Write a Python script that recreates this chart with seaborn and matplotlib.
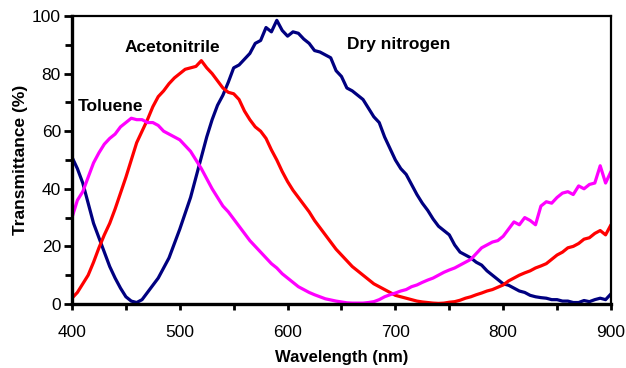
import numpy as np
import pandas as pd
import matplotlib
matplotlib.use("Agg")
import matplotlib.pyplot as plt
from matplotlib.ticker import MultipleLocator
import seaborn as sns

# Comprimentos de onda (nm), passo de 5 nm
wavelength = list(range(400, 905, 5))

dry_nitrogen = [51, 47, 42, 35, 28, 23, 18, 13, 9, 5.5,
                2.5, 1, 0.5, 1.5, 4, 6.5, 9, 12.5, 16, 21,
                26, 31.5, 37, 44, 51, 58, 64, 69, 72.5, 77,
                82, 83, 85, 87, 90.5, 91.5, 96, 94.5, 98.5, 95,
                93, 94.5, 94, 92, 90.5, 88, 87.5, 86.5, 85.5, 81,
                79, 75, 74, 72.5, 71, 68, 65, 63, 58, 54,
                50, 47, 45, 41.5, 38, 35, 32.5, 29.5, 27, 25.5,
                24, 20.5, 18, 17, 16, 14.5, 13.5, 11.5, 10, 8.5,
                7, 6.5, 5.5, 4.5, 4, 3, 2.5, 2.2, 2, 1.5,
                1.5, 1, 1, 0.5, 0.5, 1.2, 0.8, 1.5, 2, 1.5,
                3.5]

acetonitrile = [2, 4, 7, 10, 14.5, 19.5, 24, 28, 33, 38.5,
                44, 50, 56, 60, 64, 68.5, 72, 74, 76.5, 78.5,
                80, 81.5, 82, 82.5, 84.5, 82, 80, 77.5, 75, 73.5,
                73, 71, 67, 64, 61.5, 60, 57.5, 53.5, 50, 46,
                42.5, 39.5, 37, 34.5, 32, 29, 26.5, 24, 21.5, 19,
                17, 15, 13, 11.5, 10, 8.5, 7, 6, 5, 4,
                3, 2.5, 2, 1.5, 1, 0.7, 0.5, 0.3, 0.2, 0.3,
                0.6, 0.8, 1.3, 2, 2.5, 3.2, 3.8, 4.5, 5, 5.8,
                6.6, 8, 9, 10, 10.8, 11.5, 12.5, 13.2, 14, 15.5,
                17, 18, 19.5, 20, 21, 22.5, 23, 24.5, 25.5, 24,
                27.5]

toluene = [30, 36, 39, 44, 49, 52.5, 55.5, 57.5, 59, 61.5,
           63, 64.5, 64, 64, 63, 63, 62, 60, 59, 58,
           57, 55, 53, 50, 47, 43.5, 40, 37, 34, 32,
           29.5, 27, 24.5, 22, 20, 18, 16, 14, 12.5, 10.5,
           9, 7.5, 6, 5, 4, 3.2, 2.5, 1.8, 1.4, 1,
           0.7, 0.4, 0.3, 0.3, 0.3, 0.5, 0.8, 1.5, 2.5, 3.2,
           3.8, 4.5, 5, 6, 6.6, 7.5, 8.3, 9, 10, 11,
           11.8, 12.5, 13.5, 14.5, 15.5, 17.5, 19.5, 20.5, 21.5, 22,
           23.5, 26, 28.5, 27.5, 30, 29, 27.5, 34, 35.5, 35,
           37, 38.5, 39, 38, 41, 40, 41.5, 42, 48, 42,
           46]

series_names = ["Dry nitrogen", "Acetonitrile", "Toluene"]
cores = {"Dry nitrogen": "#000080", "Acetonitrile": "#FF0000", "Toluene": "#FF00FF"}

df = pd.DataFrame({"Wavelength": wavelength,
                   "Dry nitrogen": dry_nitrogen,
                   "Acetonitrile": acetonitrile,
                   "Toluene": toluene})
df_long = df.melt(id_vars="Wavelength", var_name="Amostra", value_name="Transmittance")

sns.set_style("white")
plt.rcParams["font.family"] = ["Liberation Sans", "DejaVu Sans"]
plt.rcParams["text.color"] = "black"
plt.rcParams["axes.labelcolor"] = "black"
plt.rcParams["xtick.color"] = "black"
plt.rcParams["ytick.color"] = "black"

fig = plt.figure(figsize=(6.26, 3.68), dpi=100)
ax = fig.add_axes([0.115, 0.174, 0.861, 0.7825])

sns.lineplot(data=df_long, x="Wavelength", y="Transmittance", hue="Amostra",
             hue_order=series_names, palette=cores, linewidth=2.3, legend=False, ax=ax)

ax.set_xlim(400, 900)
ax.set_ylim(0, 100)
ax.xaxis.set_major_locator(MultipleLocator(100))
ax.xaxis.set_minor_locator(MultipleLocator(50))
ax.yaxis.set_major_locator(MultipleLocator(20))
ax.yaxis.set_minor_locator(MultipleLocator(10))

ax.tick_params(axis="x", which="major", direction="out", length=4, width=2, pad=11, labelsize=12.5)
ax.tick_params(axis="x", which="minor", direction="out", length=4, width=2)
ax.tick_params(axis="y", which="major", direction="out", length=6, width=2, pad=2, labelsize=12.5)
ax.tick_params(axis="y", which="minor", direction="out", length=5, width=2)
ax.tick_params(bottom=True, left=True, which="both")

for lado in ["left", "bottom"]:
    ax.spines[lado].set_linewidth(2.4)
    ax.spines[lado].set_color("black")
for lado in ["top", "right"]:
    ax.spines[lado].set_linewidth(1.6)
    ax.spines[lado].set_color("black")

ax.set_xlabel("Wavelength (nm)", fontsize=12, fontweight="bold", labelpad=7)
ax.set_ylabel("Transmittance (%)", fontsize=12.5, fontweight="bold", labelpad=3)

# Rotulos das curvas
ax.text(405, 68.5, "Toluene", fontsize=12.5, fontweight="bold", va="center")
ax.text(449, 89, "Acetonitrile", fontsize=12.5, fontweight="bold", va="center")
ax.text(655, 90, "Dry nitrogen", fontsize=12.5, fontweight="bold", va="center")

fig.savefig("out.png", dpi=100)
